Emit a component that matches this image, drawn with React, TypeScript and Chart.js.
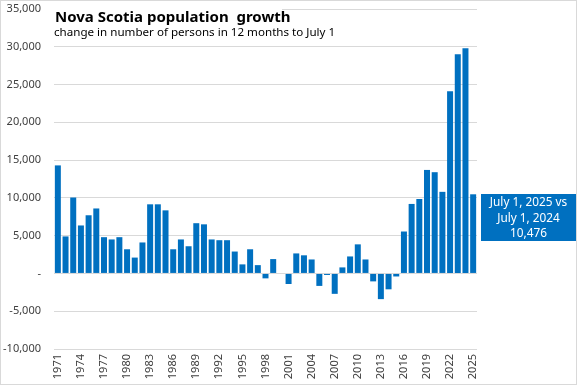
import React, { useEffect, useRef } from "react";
import { Chart, registerables } from "chart.js";

Chart.register(...registerables);

const years: string[] = [];
for (let y = 1971; y <= 2025; y++) years.push(String(y));

const growth: number[] = [
  14300, 4900, 10050, 6350, 7700, 8600, 4800, 4500, 4800, 3200,
  2100, 4100, 9150, 9150, 8350, 3200, 4500, 3600, 6650, 6500,
  4500, 4400, 4400, 2900, 1200, 3200, 1100, -650, 1900, 0,
  -1400, 2650, 2400, 1850, -1650, -200, -2700, 800, 2250, 3850,
  1850, -1050, -3400, -2100, -400, 5550, 9200, 9850, 13700, 13400,
  10800, 24100, 29000, 29800, 10476,
];

const titleText = "Nova Scotia population  growth";
const subtitleText = "change in number of persons in 12 months to July 1";
const calloutLines = ["July 1, 2025 vs", "July 1, 2024", "10,476"];

const FONT = "'Noto Sans', sans-serif";
const BLUE = "#0070C0";

const overlayPlugin = {
  id: "overlay",
  afterDraw(chart: any) {
    const ctx = chart.ctx;
    const area = chart.chartArea;
    ctx.save();
    // title box
    ctx.fillStyle = "#ffffff";
    ctx.fillRect(area.left, area.top - 3, 228, 36);
    ctx.fillStyle = "#000000";
    ctx.textBaseline = "alphabetic";
    ctx.textAlign = "left";
    ctx.font = `bold 15px ${FONT}`;
    ctx.fillText(titleText, area.left + 1, area.top + 13);
    ctx.font = `11.6px ${FONT}`;
    ctx.fillText(subtitleText, area.left, area.top + 27);
    // callout box
    const bx = area.right + 4;
    const by = 193;
    ctx.fillStyle = BLUE;
    ctx.fillRect(bx, by, chart.width - bx, 47);
    ctx.fillStyle = "#ffffff";
    ctx.textAlign = "center";
    ctx.textBaseline = "middle";
    ctx.font = `11.8px ${FONT}`;
    const cx = bx + (chart.width - bx) / 2;
    calloutLines.forEach((t, i) => {
      ctx.fillText(t, cx, by + 9 + i * 15.5);
    });
    ctx.restore();
  },
};

export default function App() {
  const ref = useRef<HTMLCanvasElement | null>(null);
  useEffect(() => {
    document.body.style.margin = "0";
    if (!ref.current) return;
    const chart = new Chart(ref.current, {
      type: "bar",
      data: {
        labels: years,
        datasets: [
          {
            data: growth,
            backgroundColor: BLUE,
            barPercentage: 0.78,
            categoryPercentage: 1,
          },
        ],
      },
      options: {
        animation: false,
        responsive: false,
        maintainAspectRatio: false,
        layout: { padding: { top: 0, right: 99, left: 0, bottom: 2 } },
        plugins: {
          legend: { display: false },
          tooltip: { enabled: false },
          title: { display: false },
        },
        scales: {
          x: {
            grid: { display: false, drawTicks: false },
            border: { display: false },
            afterFit: (s: any) => {
              s.height = 33;
              s.paddingLeft = 0;
              s.paddingRight = 0;
            },
            ticks: {
              autoSkip: false,
              maxRotation: 90,
              minRotation: 90,
              padding: 5,
              color: "#404040",
              font: { family: FONT, size: 11 },
              callback: (_v: any, i: number) => (i % 3 === 0 ? years[i] : ""),
            },
          },
          y: {
            min: -10000,
            max: 35000,
            grid: { color: "#d9d9d9", lineWidth: 1, drawTicks: false },
            border: { display: false },
            afterFit: (s: any) => {
              s.width = 53;
              s.paddingTop = 8;
              s.paddingBottom = 0;
            },
            ticks: {
              stepSize: 5000,
              padding: 13,
              color: "#404040",
              font: { family: FONT, size: 11 },
              callback: (v: any) =>
                Number(v) === 0 ? "-" : Number(v).toLocaleString("en-US"),
            },
          },
        },
      },
      plugins: [overlayPlugin],
    });
    return () => chart.destroy();
  }, []);
  return (
    <div
      style={{
        width: 577,
        height: 385,
        position: "relative",
        boxSizing: "border-box",
        border: "1px solid #d9d9d9",
        overflow: "hidden",
      }}
    >
      <canvas
        ref={ref}
        width={575}
        height={383}
        style={{ position: "absolute", left: 0, top: 0 }}
      />
    </div>
  );
}
